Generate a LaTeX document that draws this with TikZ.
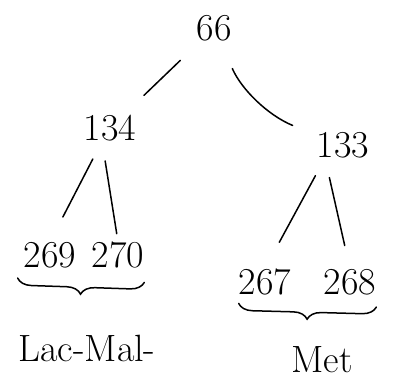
\documentclass[tikz,border=0pt]{standalone}
\usetikzlibrary{decorations.pathreplacing}
\tikzset{
  num/.style={font=\fontsize{38}{40}\selectfont, inner sep=0pt},
  stroke/.style={line width=1.5pt, line cap=round},
  curly/.style={stroke, decorate, decoration={brace, mirror, amplitude=14pt}},
}
\begin{document}
\begin{tikzpicture}[x=1pt, y=-1pt]
	\useasboundingbox (0,0) rectangle (397,383);
	\node[num] (root) at (214,28) {66};
	\node[num] (n134) at (110,128) {134};
	\node[num] (n133) at (343,145) {133};
	\node[num] (n269) at (50,255) {269};
	\node[num] (n270) at (118,255) {270};
	\node[num] (n267) at (265,282) {267};
	\node[num] (n268) at (350,282) {268};
	\node[num] (lacmal) at (87,348) {Lac-Mal-};
	\node[num] (met) at (322,360) {Met};
	% branches
	\draw[stroke, shorten <=28pt, shorten >=28pt] (root) -- (n134);
	\draw[stroke, shorten <=30pt, shorten >=26pt] (root) to[bend right=22] (n133);
	\draw[stroke, shorten <=20pt, shorten >=28pt] ([xshift=-8pt]n134.south) -- (n269.north);
	\draw[stroke, shorten <=20pt, shorten >=8pt] ([xshift=-8pt]n134.south) -- (n270.north);
	\draw[stroke, shorten <=20pt, shorten >=30pt] ([xshift=-18pt]n133.south) -- (n267.north);
	\draw[stroke, shorten <=20pt, shorten >=24pt] ([xshift=-18pt]n133.south) -- (n268.north);
	% braces
	\draw[curly] ([xshift=-6pt, yshift=-10pt]n269.south west) -- ([yshift=-14pt]n270.south east);
	\draw[curly] ([yshift=-8pt]n267.south west) -- ([yshift=-12pt]n268.south east);
\end{tikzpicture}
\end{document}
